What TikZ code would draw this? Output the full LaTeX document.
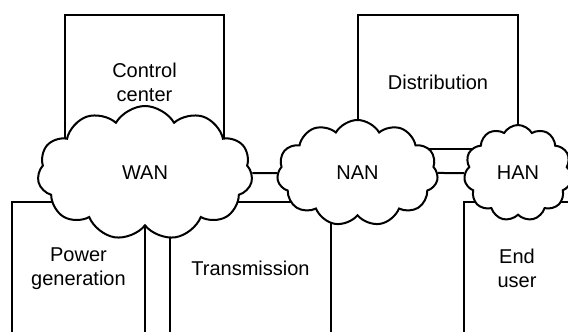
\documentclass[tikz,border=0pt]{standalone}
\usepackage{fontspec}
\setmainfont{Liberation Sans}
\usetikzlibrary{shapes.symbols}

\begin{document}
\begin{tikzpicture}[x=0.5pt,y=-0.5pt,line width=1pt,
  box/.style={draw, rectangle, inner sep=0pt, minimum height=67pt, align=center, font=\fontsize{10}{12}\selectfont},
  net/.style={draw, cloud, cloud puffs=11, cloud puff arc=120, cloud ignores aspect, fill=white, inner sep=0pt, font=\fontsize{10}{12}\selectfont}]
\useasboundingbox (0,0) rectangle (568,332);
\clip (0,0) rectangle (568,332);
% domains
\node [box, minimum width=79.5pt] (ctrl) at (144.5,82) {Control\\center};
\node [box, minimum width=80pt] (dist) at (438,82) {Distribution};
\node [box, minimum width=66.5pt] (power) at (78.5,268.5) {Power\\generation};
\node [box, minimum width=80.5pt] (trans) at (250.5,268.5) {Transmission};
\node [box, minimum width=53pt] (user) at (517,268.5) {End\\user};
% networks on top
\node [net, minimum width=107.5pt, minimum height=67pt] (wan) at (145,173) {WAN};
\node [net, minimum width=80.5pt, minimum height=53pt] (nan) at (357.5,173) {NAN};
\node [net, minimum width=54pt, minimum height=48pt] (han) at (518,173) {HAN};
\draw (wan) -- (nan);
\draw (nan) -- (han);
\end{tikzpicture}
\end{document}
